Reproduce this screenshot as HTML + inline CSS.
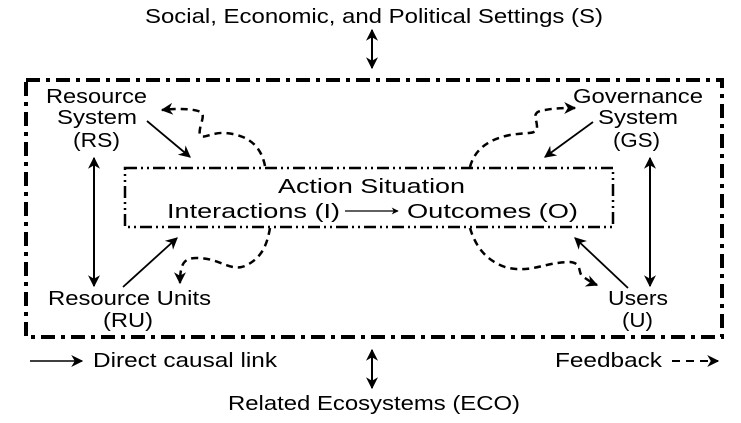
<!DOCTYPE html>
<html><head><meta charset="utf-8"><style>
html,body{margin:0;padding:0;background:#fff;width:741px;height:423px;overflow:hidden}
svg{display:block}
text{font-family:"Liberation Sans",Arial,sans-serif;font-size:20px;fill:#000}
</style></head><body>
<svg width="741" height="423" viewBox="0 0 741 423" xmlns="http://www.w3.org/2000/svg">
<defs>
<marker id="a" viewBox="0 0 10 10" refX="9" refY="5" markerWidth="7" markerHeight="7" markerUnits="userSpaceOnUse" orient="auto-start-reverse"><path d="M0,0 L10,5 L0,10 L3,5 z" fill="#000"/></marker>
<marker id="b" viewBox="0 0 10 10" refX="9" refY="5" markerWidth="12" markerHeight="12" markerUnits="userSpaceOnUse" orient="auto-start-reverse"><path d="M0,0 L10,5 L0,10 L3,5 z" fill="#000"/></marker>
</defs>
<rect x="26" y="80" width="696" height="257" fill="none" stroke="#000" stroke-width="4" stroke-dasharray="14,6,4,6"/>
<rect x="125" y="168" width="488" height="59" fill="none" stroke="#000" stroke-width="2.5" stroke-dasharray="12,4,2,4,2,4"/>

<text x="145" y="23" textLength="458" lengthAdjust="spacingAndGlyphs">Social, Economic, and Political Settings (S)</text>
<text x="46" y="103" textLength="101" lengthAdjust="spacingAndGlyphs">Resource</text>
<text x="57" y="124" textLength="80" lengthAdjust="spacingAndGlyphs">System</text>
<text x="73" y="147" textLength="47" lengthAdjust="spacingAndGlyphs">(RS)</text>
<text x="573" y="103" textLength="130" lengthAdjust="spacingAndGlyphs">Governance</text>
<text x="598" y="124" textLength="80" lengthAdjust="spacingAndGlyphs">System</text>
<text x="613" y="147" textLength="47" lengthAdjust="spacingAndGlyphs">(GS)</text>
<text x="48" y="305" textLength="163" lengthAdjust="spacingAndGlyphs">Resource Units</text>
<text x="103" y="327" textLength="50" lengthAdjust="spacingAndGlyphs">(RU)</text>
<text x="608" y="305" textLength="60" lengthAdjust="spacingAndGlyphs">Users</text>
<text x="622" y="327" textLength="31" lengthAdjust="spacingAndGlyphs">(U)</text>
<text x="278" y="193" textLength="187" lengthAdjust="spacingAndGlyphs">Action Situation</text>
<text x="167" y="218" textLength="173" lengthAdjust="spacingAndGlyphs">Interactions (I)</text>
<text x="407" y="218" textLength="171" lengthAdjust="spacingAndGlyphs">Outcomes (O)</text>
<text x="93" y="367" textLength="184" lengthAdjust="spacingAndGlyphs">Direct causal link</text>
<text x="555" y="367" textLength="107" lengthAdjust="spacingAndGlyphs">Feedback</text>
<text x="228" y="410" textLength="292" lengthAdjust="spacingAndGlyphs">Related Ecosystems (ECO)</text>

<line x1="345" y1="211" x2="398" y2="211" stroke="#000" stroke-width="1.3" marker-end="url(#a)"/>
<line x1="372" y1="30" x2="372" y2="68" stroke="#000" stroke-width="2" marker-start="url(#b)" marker-end="url(#b)"/>
<line x1="94" y1="158" x2="94" y2="286" stroke="#000" stroke-width="2" marker-start="url(#b)" marker-end="url(#b)"/>
<line x1="650" y1="158" x2="650" y2="286" stroke="#000" stroke-width="2" marker-start="url(#b)" marker-end="url(#b)"/>

<line x1="147" y1="121" x2="190" y2="157" stroke="#000" stroke-width="1.8" marker-end="url(#b)"/>
<line x1="123" y1="287" x2="177" y2="238" stroke="#000" stroke-width="1.8" marker-end="url(#b)"/>
<line x1="593" y1="122" x2="545" y2="157" stroke="#000" stroke-width="1.8" marker-end="url(#b)"/>
<line x1="628" y1="288" x2="575" y2="238" stroke="#000" stroke-width="1.8" marker-end="url(#b)"/>

<g fill="none" stroke="#000" stroke-width="2.5" stroke-dasharray="7,5">
<path d="M265,166 C262,150 252,135 225,133 C212,132 202,140 200,135 C198,128 205,118 202,113 C198,109 180,108 162,110" marker-end="url(#b)"/>
<path d="M270,228 C267,245 262,258 245,266 C230,272 220,258 197,258 C185,258 180,262 180,283" marker-end="url(#b)"/>
<path d="M470,167 C474,152 485,140 510,135 C528,132 537,135 537,127 C537,118 530,112 545,110 C555,108 565,108 575,108" marker-end="url(#b)"/>
<path d="M470,228 C475,245 485,260 505,267 C530,274 545,262 570,262 C582,263 578,272 582,276 C588,280 592,283 597,285" marker-end="url(#b)"/>
</g>

<line x1="30" y1="361" x2="82" y2="361" stroke="#000" stroke-width="1.6" marker-end="url(#b)"/>
<line x1="672" y1="361" x2="718" y2="361" stroke="#000" stroke-width="2" stroke-dasharray="8,6" marker-end="url(#b)"/>
<line x1="372" y1="350" x2="372" y2="388" stroke="#000" stroke-width="2" marker-start="url(#b)" marker-end="url(#b)"/>
</svg>
</body></html>
